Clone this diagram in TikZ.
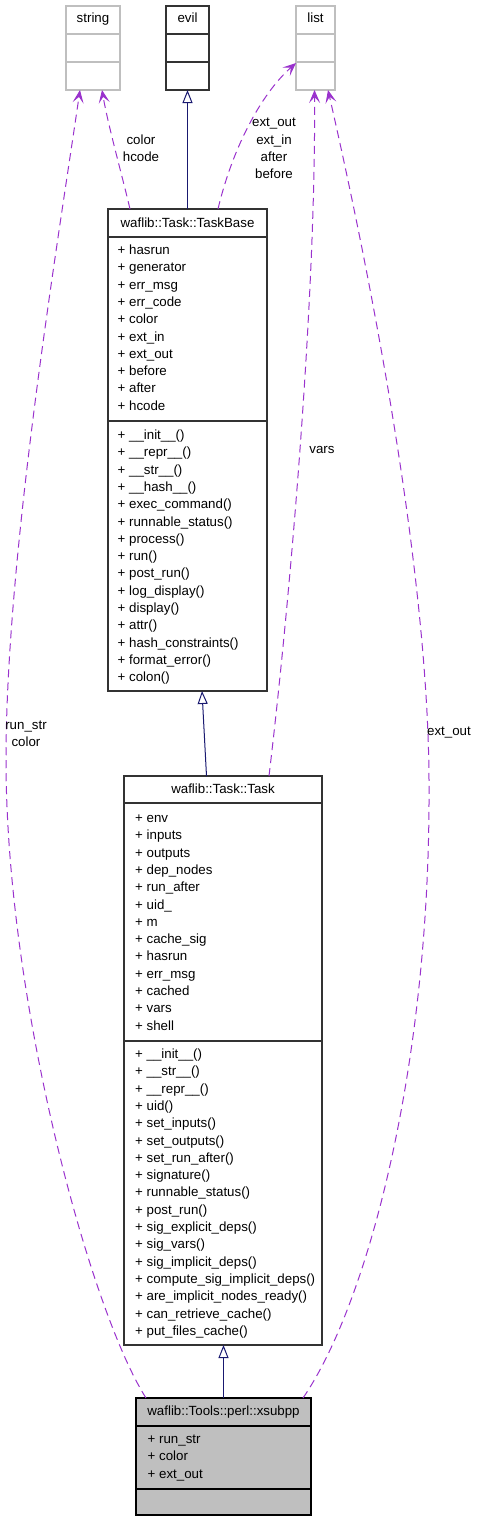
\documentclass[tikz,border=0pt]{standalone}
\usepackage{fontspec}
\setmainfont{Liberation Sans}
\usetikzlibrary{arrows.meta}
\definecolor{edgep}{HTML}{9A32CD}
\definecolor{inh}{HTML}{191970}
\definecolor{greyb}{HTML}{BFBFBF}
\definecolor{darkb}{HTML}{333333}
\begin{document}
\begin{tikzpicture}[x=1pt,y=-1pt,
  box/.style={draw=darkb, line width=1.2pt, inner sep=0pt, outer sep=0pt, rectangle},
  gbox/.style={box, draw=greyb},
  div/.style={line width=1.2pt, draw=darkb},
  gdiv/.style={line width=1.2pt, draw=greyb},
  txt/.style={inner sep=0pt, font=\fontsize{13.3}{17.3}\selectfont},
  mem/.style={txt, anchor=base west},
  ttl/.style={txt, anchor=base},
  lbl/.style={txt, align=center},
  uses/.style={draw=edgep, line width=1pt, dash pattern=on 8pt off 5pt, -{Stealth[length=13pt,width=11pt,inset=6pt]}},
  inherit/.style={draw=inh, line width=1pt, -{Triangle[open,length=13pt,width=10pt,line width=1pt]}}
]
\useasboundingbox (0,0) rectangle (477,1523);

% ---- string
\node[gbox, minimum width=54pt, minimum height=84pt] (string) at (93,48) {};
\draw[gdiv] (string.west |- 0,34) -- (string.east |- 0,34);
\draw[gdiv] (string.west |- 0,62) -- (string.east |- 0,62);
\node[ttl] (string-t) at (93,22.5) {string};

% ---- evil
\node[box, minimum width=43pt, minimum height=84pt] (evil) at (187.5,48) {};
\draw[div] (evil.west |- 0,34) -- (evil.east |- 0,34);
\draw[div] (evil.west |- 0,62) -- (evil.east |- 0,62);
\node[ttl] (evil-t) at (187.5,22.5) {evil};

% ---- list
\node[gbox, minimum width=39pt, minimum height=84pt] (list) at (315.5,48) {};
\draw[gdiv] (list.west |- 0,34) -- (list.east |- 0,34);
\draw[gdiv] (list.west |- 0,62) -- (list.east |- 0,62);
\node[ttl] (list-t) at (315.5,22.5) {list};

% ---- TaskBase
\node[box, minimum width=159pt, minimum height=482pt] (taskbase) at (187.5,450) {};
\draw[div] (taskbase.west |- 0,237) -- (taskbase.east |- 0,237);
\draw[div] (taskbase.west |- 0,421) -- (taskbase.east |- 0,421);
\node[ttl] (taskbase-t) at (187.5,227.5) {waflib::Task::TaskBase};
\foreach \t [count=\i from 0] in {hasrun, generator, err\_msg, err\_code, color, ext\_in, ext\_out, before, after, hcode}
  \node[mem] (tba\i) at (117.5,254.5+17.3*\i) {+ \t};
\foreach \t [count=\i from 0] in {\_\_init\_\_(), \_\_repr\_\_(), \_\_str\_\_(), \_\_hash\_\_(), exec\_command(), runnable\_status(), process(), run(), post\_run(), log\_display(), display(), attr(), hash\_constraints(), format\_error(), colon()}
  \node[mem] (tbm\i) at (117.5,439.5+17.3*\i) {+ \t};

% ---- Task
\node[box, minimum width=198pt, minimum height=569pt] (task) at (223,1060.5) {};
\draw[div] (task.west |- 0,803) -- (task.east |- 0,803);
\draw[div] (task.west |- 0,1041) -- (task.east |- 0,1041);
\node[ttl] (task-t) at (223,793.5) {waflib::Task::Task};
\foreach \t [count=\i from 0] in {env, inputs, outputs, dep\_nodes, run\_after, uid\_, m, cache\_sig, hasrun, err\_msg, cached, vars, shell}
  \node[mem] (ta\i) at (135,822.5+17.3*\i) {+ \t};
\foreach \t [count=\i from 0] in {\_\_init\_\_(), \_\_str\_\_(), \_\_repr\_\_(), uid(), set\_inputs(), set\_outputs(), set\_run\_after(), signature(), runnable\_status(), post\_run(), sig\_explicit\_deps(), sig\_vars(), sig\_implicit\_deps(), compute\_sig\_implicit\_deps(), are\_implicit\_nodes\_ready(), can\_retrieve\_cache(), put\_files\_cache()}
  \node[mem] (tm\i) at (135,1058.5+17.3*\i) {+ \t};

% ---- xsubpp
\node[box, draw=black, fill=greyb, minimum width=175pt, minimum height=117pt] (xsub) at (223.5,1456.5) {};
\draw[div, draw=black] (xsub.west |- 0,1426) -- (xsub.east |- 0,1426);
\draw[div, draw=black] (xsub.west |- 0,1489) -- (xsub.east |- 0,1489);
\node[ttl] (xsub-t) at (223.5,1415.5) {waflib::Tools::perl::xsubpp};
\foreach \t [count=\i from 0] in {run\_str, color, ext\_out}
  \node[mem] (xa\i) at (147.5,1443.5+17.3*\i) {+ \t};

% ---- inheritance
\draw[inherit] (taskbase.north) -- (evil.south);
\draw[inherit] ([xshift=-16.5pt]task.north) -- ([xshift=14.5pt]taskbase.south);
\draw[inherit] (xsub.north) -- (xsub.north |- task.south);

% ---- usage
\coordinate (lmid) at (6,760);
\coordinate (rmid) at (429,790);
\draw[uses] ([xshift=22pt]taskbase.north west) .. controls (122,175) and (108,125) .. ([xshift=9pt]string.south);
\node[lbl] (l1) at (141,148) {color\\hcode};

\draw[uses] ([xshift=10pt]xsub.north west) .. controls (90,1310) and (6,1000) .. (lmid)
  .. controls (6,560) and (55,260) .. ([xshift=-13pt]string.south);
\node[lbl] (l2) at (26,733.5) {run\_str\\color};

\draw[uses] ([xshift=110pt]taskbase.north west) .. controls (232,150) and (260,95) .. ([yshift=-15pt]list.west);
\node[lbl] (l3) at (274,148.5) {ext\_out\\ext\_in\\after\\before};

\draw[uses] ([xshift=46pt]task.north) .. controls (290,600) and (316,300) .. ([xshift=-1pt]list.south);
\node[lbl] (l4) at (322,450) {vars};

\draw[uses] ([xshift=-8pt]xsub.north east) .. controls (370,1300) and (430,1060) .. (rmid)
  .. controls (430,560) and (360,230) .. ([xshift=12.5pt]list.south);
\node[lbl] (l5) at (449,733) {ext\_out};
\end{tikzpicture}
\end{document}
